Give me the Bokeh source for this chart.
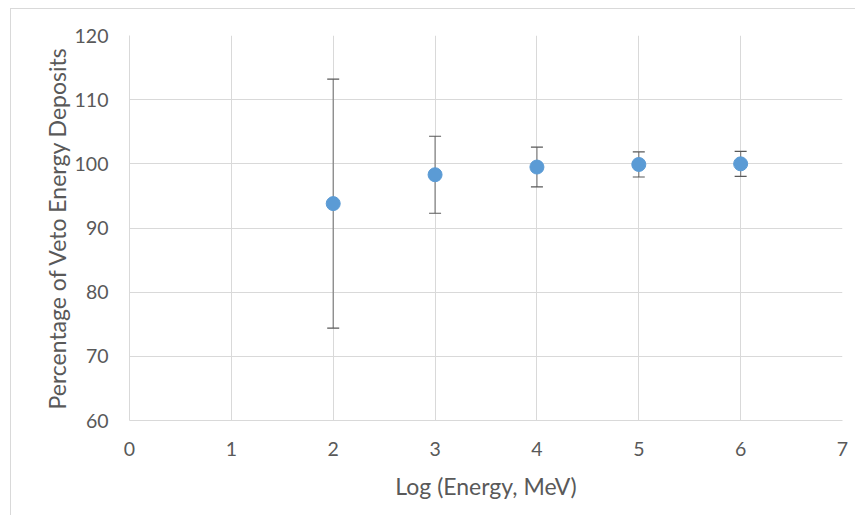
from bokeh.plotting import figure
from bokeh.models import ColumnDataSource, Whisker, TeeHead, FixedTicker, Range1d
from bokeh.embed import file_html
from bokeh.resources import INLINE

log_energy = [2, 3, 4, 5, 6]
percentage = [93.8, 98.3, 99.5, 99.9, 100.0]
error = [19.4, 6.0, 3.1, 1.95, 1.95]
x_ticks = [0, 1, 2, 3, 4, 5, 6, 7]
y_ticks = [60, 70, 80, 90, 100, 110, 120]

src = ColumnDataSource(dict(
    x=log_energy, y=percentage,
    upper=[v + e for v, e in zip(percentage, error)],
    lower=[v - e for v, e in zip(percentage, error)],
))

FONT = "Lato"
TXT = "#595959"
GRID = "#d9d9d9"

p = figure(width=855, height=515, output_backend="svg", toolbar_location=None,
           x_range=Range1d(0, 7), y_range=Range1d(60, 120),
           min_border_left=129, min_border_right=13, min_border_top=35, min_border_bottom=95)
p.border_fill_color = None
p.styles = {"background": "linear-gradient(#d9d9d9,#d9d9d9) 10px 8px / 1px 100% no-repeat, "
                          "linear-gradient(#d9d9d9,#d9d9d9) 10px 8px / 100% 1px no-repeat, white"}
p.outline_line_color = None
p.background_fill_color = "white"

w = Whisker(source=src, base="x", upper="upper", lower="lower",
            line_color="#7f7f7f", line_width=1.2,
            upper_head=TeeHead(size=12, line_color="#595959", line_width=1.2),
            lower_head=TeeHead(size=12, line_color="#595959", line_width=1.2))
p.add_layout(w)
p.scatter("x", "y", source=src, size=14, color="#5b9bd5", line_color="#5b9bd5")

p.xaxis.ticker = FixedTicker(ticks=x_ticks)
p.yaxis.ticker = FixedTicker(ticks=y_ticks)
for ax in (p.xaxis[0], p.yaxis[0]):
    ax.axis_line_color = GRID
    ax.major_tick_line_color = None
    ax.minor_tick_line_color = None
    ax.major_label_text_font = FONT
    ax.major_label_text_font_size = "19.5px"
    ax.major_label_text_color = TXT
    ax.axis_label_text_font = FONT
    ax.axis_label_text_font_size = "23px"
    ax.axis_label_text_font_style = "normal"
    ax.axis_label_text_color = TXT
p.xaxis.axis_label = "Log (Energy, MeV)"
p.yaxis.axis_label = "Percentage of Veto Energy Deposits"
p.xaxis.major_label_standoff = 15
p.yaxis.major_label_standoff = 15
p.xaxis.axis_label_standoff = 13
p.yaxis.axis_label_standoff = 1
p.xgrid.grid_line_color = GRID
p.ygrid.grid_line_color = GRID

open("out.html", "w").write(file_html(p, INLINE))
